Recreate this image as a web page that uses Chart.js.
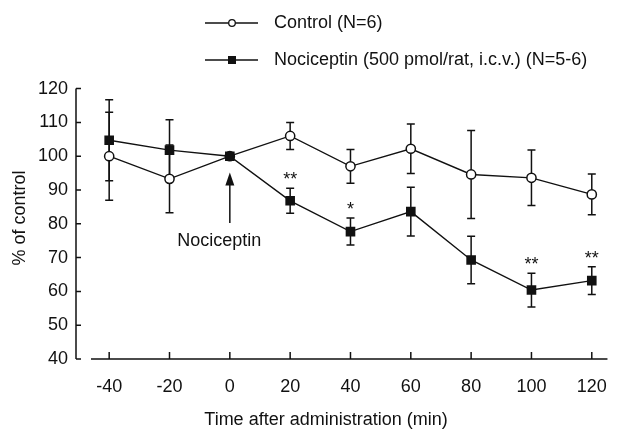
<!DOCTYPE html>
<html>
<head>
<meta charset="utf-8">
<script src="https://cdn.jsdelivr.net/npm/chart.js@4/dist/chart.umd.min.js"></script>
<style>
  html, body { margin: 0; padding: 0; background: #fff; }
  #wrap { width: 624px; height: 430px; }
</style>
</head>
<body>
<div id="wrap"><canvas id="c" width="624" height="430"></canvas></div>
<script>
// ---- data ----
const times = [-40, -20, 0, 20, 40, 60, 80, 100, 120];
const controlMean = [100, 93.3, 100, 106, 97, 102.2, 94.6, 93.6, 88.7];
const controlErr  = [13, 10, 0, 4, 5, 7.3, 13, 8.2, 6];
const nociMean = [104.7, 101.8, 100, 86.8, 77.7, 83.6, 69.3, 60.4, 63.2];
const nociErr  = [12, 9, 0, 3.7, 4, 7.2, 7, 5, 4.1];
const nociStars = ['', '', '', '**', '*', '', '', '**', '**'];
const xTickValues = [-40, -20, 0, 20, 40, 60, 80, 100, 120];
const yTickValues = [40, 50, 60, 70, 80, 90, 100, 110, 120];
const seriesNames = ['Control (N=6)', 'Nociceptin (500 pmol/rat, i.c.v.) (N=5-6)'];
const xTitle = 'Time after administration (min)';
const yTitle = '% of control';
const arrowLabel = 'Nociceptin';
const arrowAt = { x: 0, yFrom: 80.2, yTo: 95.2, labelX: -3.5, labelY: 75 };

const FONT = '"Liberation Sans", Arial, Helvetica, sans-serif';
const INK = '#111';

const toPts = (ys) => ys.map((y, i) => ({ x: times[i], y }));

const errorBars = {
  id: 'errorBars',
  beforeDatasetsDraw(chart) {
    const { ctx, scales: { x, y } } = chart;
    const sets = [[controlMean, controlErr], [nociMean, nociErr]];
    ctx.save();
    ctx.strokeStyle = INK;
    ctx.lineWidth = 1.5;
    sets.forEach(([m, e]) => {
      m.forEach((v, i) => {
        if (!e[i]) return;
        const px = x.getPixelForValue(times[i]);
        const top = y.getPixelForValue(v + e[i]);
        const bot = y.getPixelForValue(v - e[i]);
        ctx.beginPath();
        ctx.moveTo(px, top); ctx.lineTo(px, bot);
        ctx.moveTo(px - 4, top); ctx.lineTo(px + 4, top);
        ctx.moveTo(px - 4, bot); ctx.lineTo(px + 4, bot);
        ctx.stroke();
      });
    });
    ctx.restore();
  }
};

const decor = {
  id: 'decor',
  afterDraw(chart) {
    const { ctx, chartArea: ca, scales: { x, y } } = chart;
    ctx.save();
    ctx.strokeStyle = INK;
    ctx.fillStyle = INK;
    ctx.lineWidth = 1.5;
    // y axis line and inward ticks
    const y40 = y.getPixelForValue(40), y120 = y.getPixelForValue(120);
    ctx.beginPath();
    ctx.moveTo(ca.left, y40); ctx.lineTo(ca.left, y120);
    yTickValues.forEach(v => {
      const py = y.getPixelForValue(v);
      ctx.moveTo(ca.left, py); ctx.lineTo(ca.left + 5, py);
    });
    ctx.stroke();
    // x axis line (offset from y axis) and inward ticks
    ctx.beginPath();
    ctx.moveTo(ca.left + 15, ca.bottom); ctx.lineTo(ca.right, ca.bottom);
    xTickValues.forEach(v => {
      const px = x.getPixelForValue(v);
      ctx.moveTo(px, ca.bottom); ctx.lineTo(px, ca.bottom - 7);
    });
    ctx.stroke();

    // significance stars
    ctx.font = '18px ' + FONT;
    ctx.textAlign = 'center';
    ctx.textBaseline = 'alphabetic';
    nociStars.forEach((s, i) => {
      if (!s) return;
      const px = x.getPixelForValue(times[i]);
      const top = y.getPixelForValue(nociMean[i] + nociErr[i]);
      ctx.fillText(s, px, top - 3);
    });

    // arrow annotation
    const ax = x.getPixelForValue(arrowAt.x);
    const ay0 = y.getPixelForValue(arrowAt.yFrom);
    const ay1 = y.getPixelForValue(arrowAt.yTo);
    ctx.lineWidth = 1.5;
    ctx.beginPath();
    ctx.moveTo(ax, ay0); ctx.lineTo(ax, ay1 + 10);
    ctx.stroke();
    ctx.beginPath();
    ctx.moveTo(ax, ay1); ctx.lineTo(ax - 4.5, ay1 + 13); ctx.lineTo(ax + 4.5, ay1 + 13);
    ctx.closePath(); ctx.fill();
    ctx.textBaseline = 'middle';
    ctx.fillText(arrowLabel, x.getPixelForValue(arrowAt.labelX), y.getPixelForValue(arrowAt.labelY));

    // axis titles
    ctx.fillText(xTitle, 326, 420);
    ctx.save();
    ctx.translate(20, 218);
    ctx.rotate(-Math.PI / 2);
    ctx.fillText(yTitle, 0, 0);
    ctx.restore();

    // legend
    const rows = [
      { yy: 23, style: 'circle' },
      { yy: 60, style: 'rect' }
    ];
    rows.forEach((r, i) => {
      ctx.lineWidth = 1.5;
      ctx.strokeStyle = INK;
      ctx.beginPath();
      ctx.moveTo(205, r.yy); ctx.lineTo(258, r.yy);
      ctx.stroke();
      if (r.style === 'circle') {
        ctx.beginPath();
        ctx.arc(232, r.yy, 3.3, 0, Math.PI * 2);
        ctx.fillStyle = '#fff'; ctx.fill();
        ctx.lineWidth = 1.3; ctx.stroke();
      } else {
        ctx.fillStyle = INK;
        ctx.fillRect(228, r.yy - 4, 8, 8);
      }
      ctx.fillStyle = INK;
      ctx.textAlign = 'left';
      ctx.textBaseline = 'middle';
      ctx.fillText(seriesNames[i], 274, r.yy);
    });
    ctx.restore();
  }
};

new Chart(document.getElementById('c'), {
  type: 'line',
  data: {
    datasets: [
      {
        label: seriesNames[0],
        data: toPts(controlMean),
        borderColor: INK, borderWidth: 1.4,
        pointStyle: 'circle', pointRadius: 4.6,
        pointBackgroundColor: '#fff', pointBorderColor: INK, pointBorderWidth: 1.5,
        tension: 0, order: 2
      },
      {
        label: seriesNames[1],
        data: toPts(nociMean),
        borderColor: INK, borderWidth: 1.4,
        pointStyle: 'rect', pointRadius: 6.8,
        pointBackgroundColor: INK, pointBorderColor: INK, pointBorderWidth: 0,
        tension: 0, order: 1
      }
    ]
  },
  options: {
    responsive: false,
    animation: false,
    layout: { padding: { top: 88.6, left: 0, right: 4, bottom: 0 } },
    plugins: { legend: { display: false }, tooltip: { enabled: false } },
    scales: {
      x: {
        type: 'linear', min: -51, max: 125.2,
        grid: { display: false, drawTicks: false },
        border: { display: false },
        afterBuildTicks: (s) => { s.ticks = xTickValues.map(v => ({ value: v })); },
        afterFit: (s) => { s.height = 430 - 359; },
        ticks: { padding: 17, color: INK, font: { family: FONT, size: 18 }, maxRotation: 0, autoSkip: false }
      },
      y: {
        type: 'linear', min: 40, max: 120,
        grid: { display: false, drawTicks: false },
        border: { display: false },
        afterBuildTicks: (s) => { s.ticks = yTickValues.map(v => ({ value: v })); },
        afterFit: (s) => { s.width = 76; },
        ticks: { padding: 8, color: INK, font: { family: FONT, size: 18 }, autoSkip: false }
      }
    }
  },
  plugins: [errorBars, decor]
});
</script>
</body>
</html>
